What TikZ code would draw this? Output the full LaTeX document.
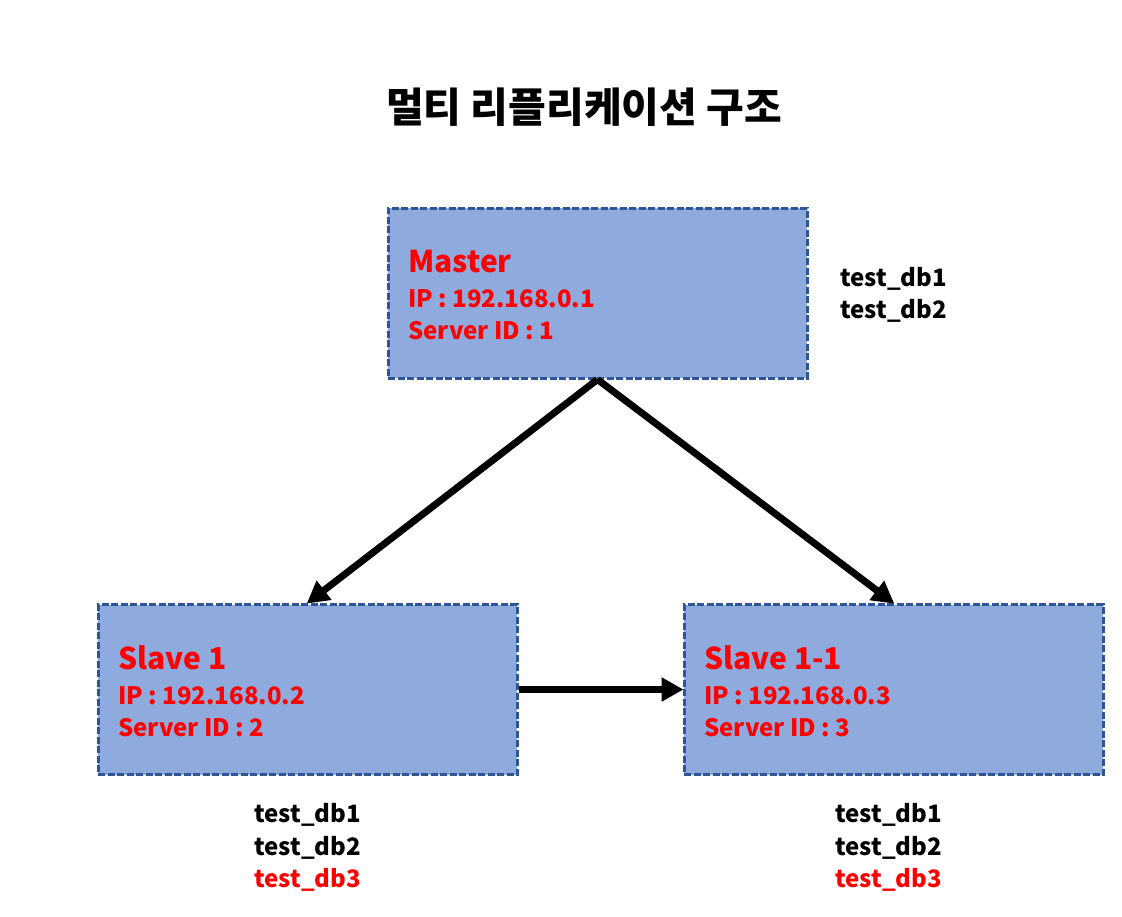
\documentclass[tikz,border=0pt]{standalone}
\usepackage{fontspec}
\setmainfont{Noto Sans CJK KR}
\usetikzlibrary{arrows.meta}
\definecolor{boxfill}{HTML}{8FAADC}
\definecolor{boxline}{HTML}{2F5597}
\definecolor{txtred}{HTML}{FF0000}
\tikzset{
  srvbox/.style={draw=boxline, fill=boxfill, line width=3pt, dash pattern=on 7pt off 2.5pt, minimum width=419pt, minimum height=170pt, inner sep=0pt},
  bigred/.style={anchor=base west, inner sep=0pt, text=txtred, font=\bfseries\fontsize{30}{31}\selectfont},
  smallred/.style={anchor=base west, inner sep=0pt, text=txtred, font=\bfseries\fontsize{24}{25}\selectfont},
  dbtxt/.style={anchor=base west, inner sep=0pt, font=\bfseries\fontsize{24}{25}\selectfont},
  conn/.style={line width=7pt, -{Triangle[length=22pt,width=23pt]}, shorten >=-1pt},
}
\begin{document}
\begin{tikzpicture}[x=1pt,y=-1pt]
\useasboundingbox (0,0) rectangle (1122,916);
\node[anchor=base, inner sep=0pt, font=\bfseries\fontsize{41}{42}\selectfont] (title) at (584,122) {멀티 리플리케이션 구조};
\node[srvbox] (m) at (597.5,293) {};
\node[srvbox] (s1) at (307.5,689.5) {};
\node[srvbox] (s2) at (893.5,689.5) {};
\node[bigred] (mt) at (408,272) {Master};
\node[smallred] (mip) at (408,307) {IP : 192.168.0.1};
\node[smallred] (mid) at (408,339) {Server ID : 1};
\node[bigred] (s1t) at (118,669) {Slave 1};
\node[smallred] (s1ip) at (118,704) {IP : 192.168.0.2};
\node[smallred] (s1id) at (118,736) {Server ID : 2};
\node[bigred] (s2t) at (704,669) {Slave 1-1};
\node[smallred] (s2ip) at (704,704) {IP : 192.168.0.3};
\node[smallred] (s2id) at (704,736) {Server ID : 3};
\node[dbtxt] (md1) at (840,286) {test\_db1};
\node[dbtxt] (md2) at (840,318) {test\_db2};
\node[dbtxt] (a1) at (254,822) {test\_db1};
\node[dbtxt] (a2) at (254,855) {test\_db2};
\node[dbtxt, text=txtred] (a3) at (254,887) {test\_db3};
\node[dbtxt] (b1) at (835,822) {test\_db1};
\node[dbtxt] (b2) at (835,855) {test\_db2};
\node[dbtxt, text=txtred] (b3) at (835,887) {test\_db3};
\draw[conn] (m.south) -- (s1.north);
\draw[conn] (m.south) -- (s2.north);
\draw[conn] (s1.east) -- (s2.west);
\end{tikzpicture}
\end{document}
